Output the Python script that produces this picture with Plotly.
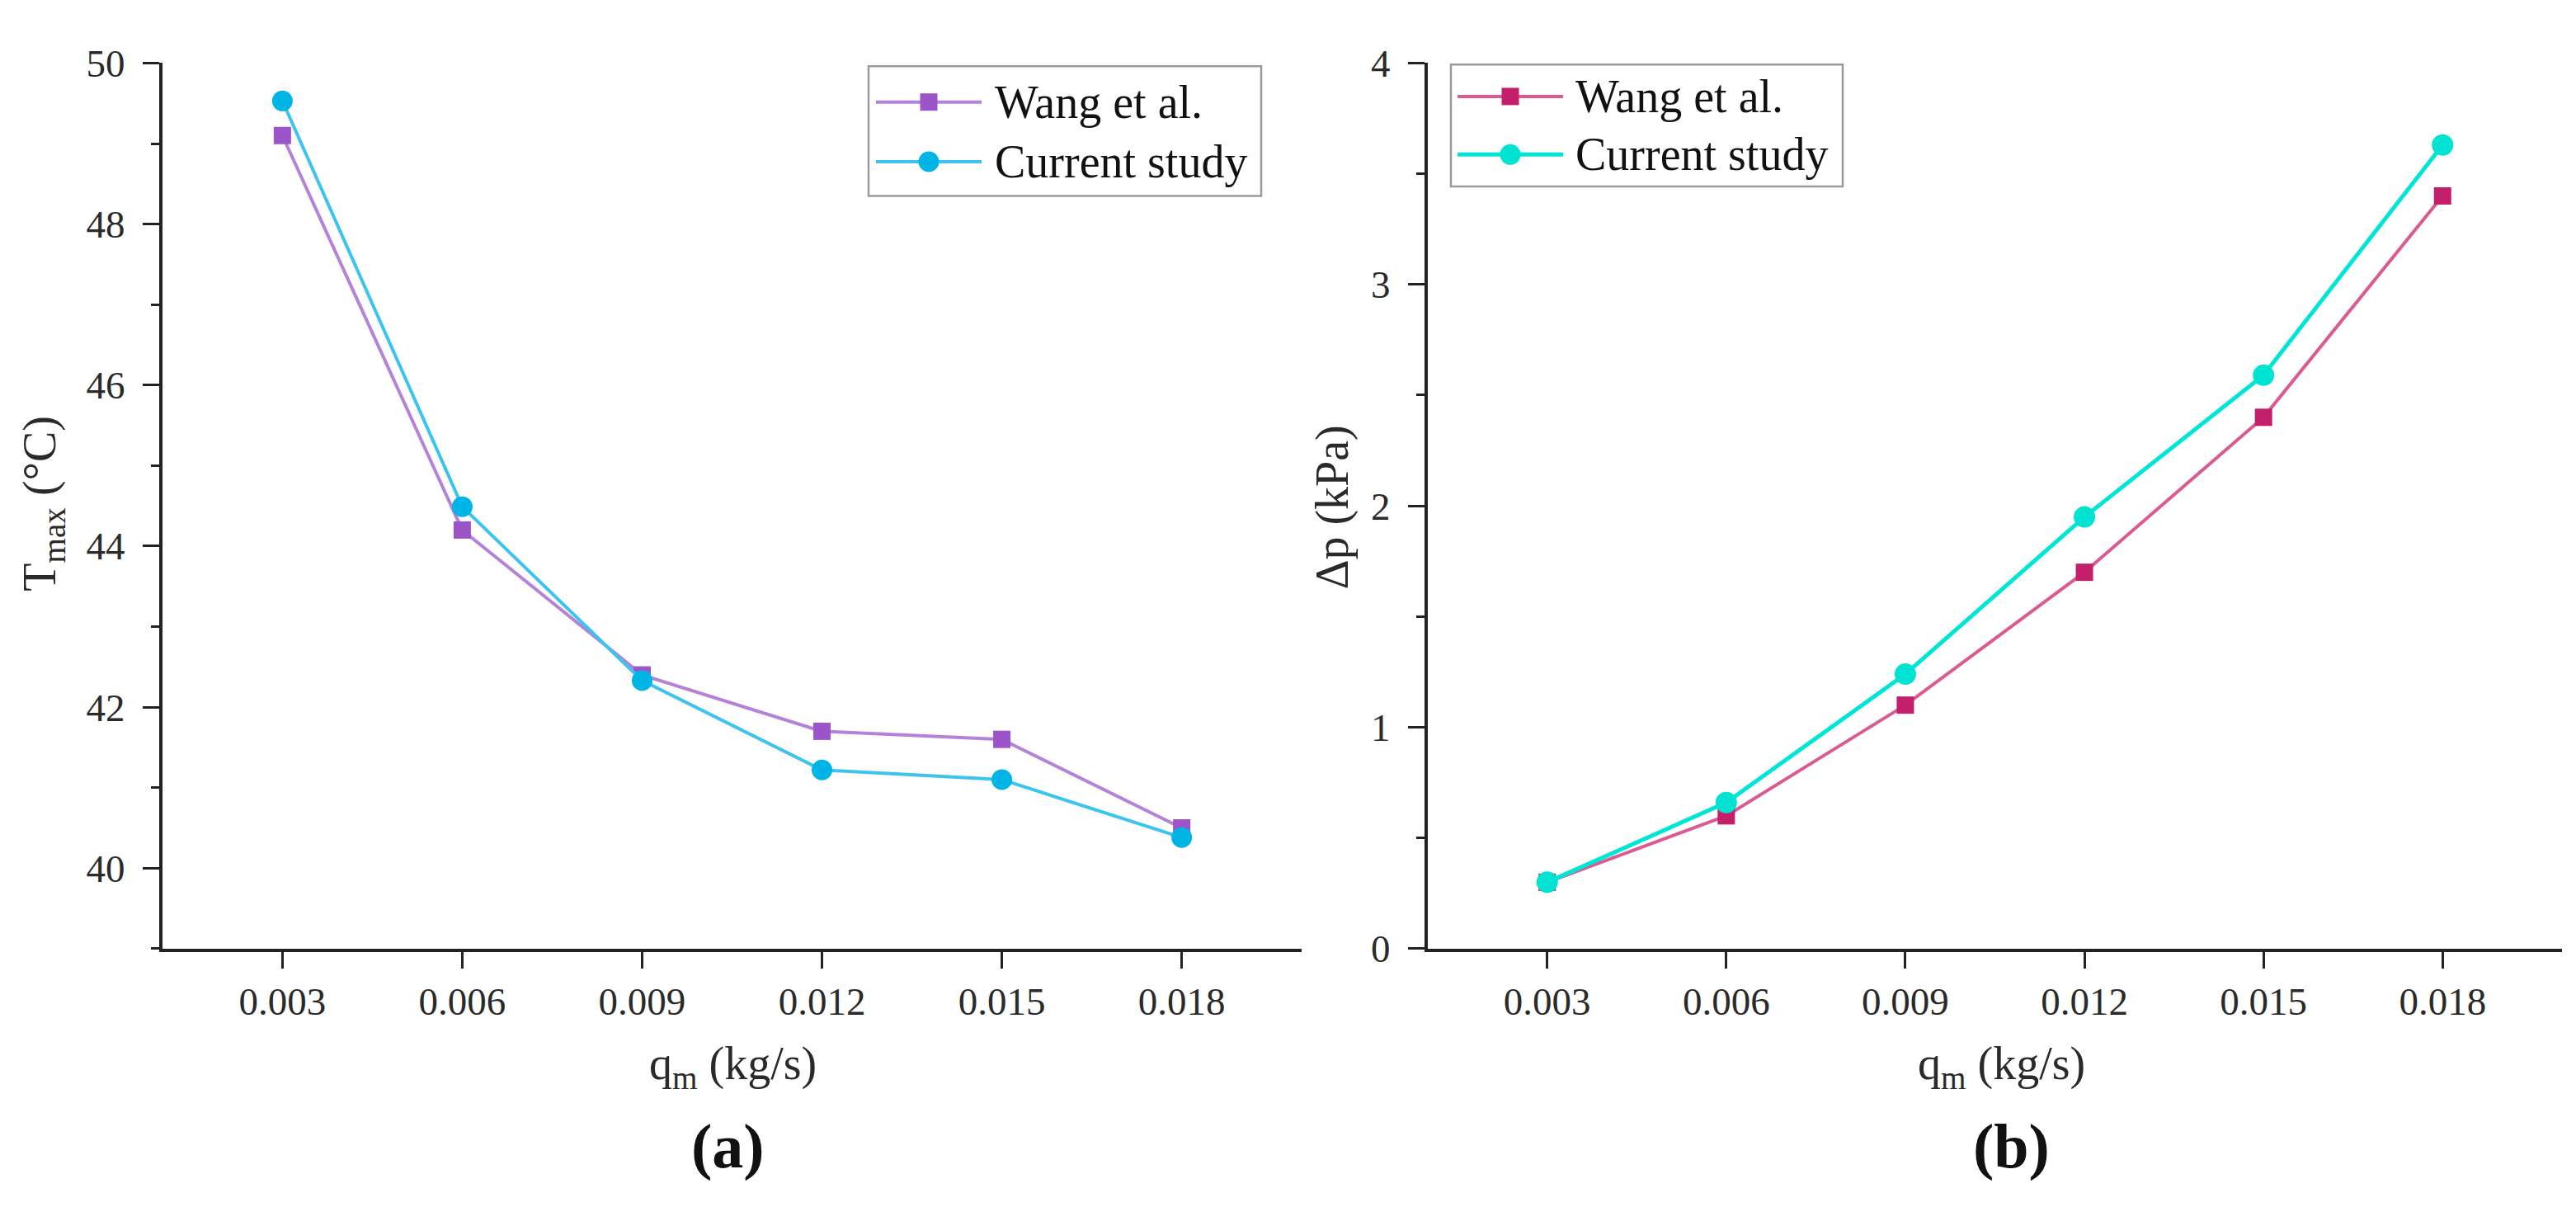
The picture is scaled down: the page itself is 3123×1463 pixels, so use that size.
import plotly.graph_objects as go

W, H = 3123, 1463

# ---------------- data ----------------
qm = [0.003, 0.006, 0.009, 0.012, 0.015, 0.018]
qm_ticktext = ["0.003", "0.006", "0.009", "0.012", "0.015", "0.018"]
series_names = ["Wang et al.", "Current study"]

tmax_wang = [49.1, 44.2, 42.4, 41.7, 41.6, 40.5]
tmax_current = [49.53, 44.49, 42.33, 41.22, 41.1, 40.38]

dp_wang = [0.30, 0.60, 1.10, 1.70, 2.40, 3.40]
dp_current = [0.30, 0.66, 1.24, 1.95, 2.59, 3.63]

# ---------------- styles ----------------
FONT = "Liberation Serif, Times New Roman, serif"
AX = "#222222"
C_A_W_LINE, C_A_W_MK = "#B483D9", "#9B55C8"
C_A_C_LINE, C_A_C_MK = "#3CC3EE", "#00B4E6"
C_B_W_LINE, C_B_W_MK = "#DB5A92", "#C41F6A"
C_B_C_LINE, C_B_C_MK = "#00E6D6", "#00E3D3"


def px(x):
    return x / W


def py(y):
    return 1 - y / H


fig = go.Figure()

# panel (a)
fig.add_trace(go.Scatter(x=qm, y=tmax_wang, mode="lines+markers", name=series_names[0],
                         line=dict(color=C_A_W_LINE, width=4),
                         marker=dict(symbol="square", size=21, color=C_A_W_MK),
                         xaxis="x", yaxis="y", showlegend=False))
fig.add_trace(go.Scatter(x=qm, y=tmax_current, mode="lines+markers", name=series_names[1],
                         line=dict(color=C_A_C_LINE, width=4),
                         marker=dict(symbol="circle", size=25, color=C_A_C_MK),
                         xaxis="x", yaxis="y", showlegend=False))
# panel (b)
fig.add_trace(go.Scatter(x=qm, y=dp_wang, mode="lines+markers", name=series_names[0],
                         line=dict(color=C_B_W_LINE, width=4),
                         marker=dict(symbol="square", size=21, color=C_B_W_MK),
                         xaxis="x2", yaxis="y2", showlegend=False))
fig.add_trace(go.Scatter(x=qm, y=dp_current, mode="lines+markers", name=series_names[1],
                         line=dict(color=C_B_C_LINE, width=5),
                         marker=dict(symbol="circle", size=26, color=C_B_C_MK),
                         xaxis="x2", yaxis="y2", showlegend=False))

common_x = dict(showline=True, linecolor=AX, linewidth=4, ticks="outside", ticklen=20,
                tickwidth=3, tickcolor=AX, tickvals=qm, ticktext=qm_ticktext,
                range=[0.001, 0.020], showgrid=False, zeroline=False,
                tickfont=dict(family=FONT, size=47, color="#2a2a2a"),
                ticklabelstandoff=0)
common_y = dict(showline=True, linecolor=AX, linewidth=4, ticks="outside", ticklen=20,
                tickwidth=3, tickcolor=AX, showgrid=False, zeroline=False,
                tickfont=dict(family=FONT, size=47, color="#2a2a2a"),
                ticklabelstandoff=12)

dom_y = [py(1157), py(44)]
fig.update_layout(
    width=W, height=H, margin=dict(l=0, r=0, t=0, b=0),
    paper_bgcolor="white", plot_bgcolor="white",
    xaxis=dict(domain=[px(189), px(1570)], anchor="y", **common_x),
    yaxis=dict(domain=dom_y, anchor="x", range=[39, 50], tick0=40, dtick=2,
               minor=dict(ticks="outside", ticklen=10, tickwidth=3, tickcolor=AX, dtick=1, tick0=39),
               **common_y),
    xaxis2=dict(domain=[px(1723), px(3098)], anchor="y2", **common_x),
    yaxis2=dict(domain=dom_y, anchor="x2", range=[0, 4], tick0=0, dtick=1,
                minor=dict(ticks="outside", ticklen=10, tickwidth=3, tickcolor=AX, dtick=0.5, tick0=0),
                **common_y),
    showlegend=False,
)

annotations = []
shapes = []


def label(text, x, y, size, color="#2a2a2a", angle=0):
    annotations.append(dict(text=text, x=px(x), y=py(y), xref="paper", yref="paper",
                            xanchor="center", yanchor="middle", textangle=angle,
                            showarrow=False, font=dict(family=FONT, size=size, color=color)))


# axis titles and panel labels
label("q<sub>m</sub> (kg/s)", 880, 1305, 56)
label("q<sub>m</sub> (kg/s)", 2418, 1305, 56)
label("<b>(a)</b>", 874, 1405, 76, "#111111")
label("<b>(b)</b>", 2430, 1405, 76, "#111111")
label("T<sub>max</sub> (°C)", 44, 598, 56, angle=-90)
label("Δp (kPa)", 1608, 603, 56, angle=-90)


# custom legends
def add_legend(box, rows, line_x, mk_x, text_x, entries):
    x0, y0, x1, y1 = box
    shapes.append(dict(type="rect", xref="paper", yref="paper", x0=px(x0), x1=px(x1),
                       y0=py(y1), y1=py(y0), line=dict(color="#9a9a9a", width=2.5),
                       fillcolor="white", layer="above"))
    for (name, lcol, mcol, sym, lw, msz), ry in zip(entries, rows):
        shapes.append(dict(type="line", xref="paper", yref="paper", x0=px(line_x[0]), x1=px(line_x[1]),
                           y0=py(ry), y1=py(ry), line=dict(color=lcol, width=lw), layer="above"))
        half = msz / 2
        shapes.append(dict(type="rect" if sym == "square" else "circle", xref="paper", yref="paper",
                           xsizemode="pixel", ysizemode="pixel", xanchor=px(mk_x), yanchor=py(ry),
                           x0=-half, x1=half, y0=-half, y1=half,
                           fillcolor=mcol, line=dict(width=0), layer="above"))
        annotations.append(dict(text=name, x=px(text_x), y=py(ry), xref="paper", yref="paper",
                                xanchor="left", yanchor="middle", showarrow=False,
                                font=dict(family=FONT, size=56, color="#111111")))


add_legend((1045, 48, 1521, 211), (93, 168), (1054, 1182), 1118, 1196,
           [(series_names[0], C_A_W_LINE, C_A_W_MK, "square", 4, 21),
            (series_names[1], C_A_C_LINE, C_A_C_MK, "circle", 4, 25)])
add_legend((1751, 46, 2226, 199), (86, 159), (1759, 1887), 1823, 1900,
           [(series_names[0], C_B_W_LINE, C_B_W_MK, "square", 4, 21),
            (series_names[1], C_B_C_LINE, C_B_C_MK, "circle", 5, 25)])

fig.update_layout(annotations=annotations, shapes=shapes)

fig.write_html("out.html")
